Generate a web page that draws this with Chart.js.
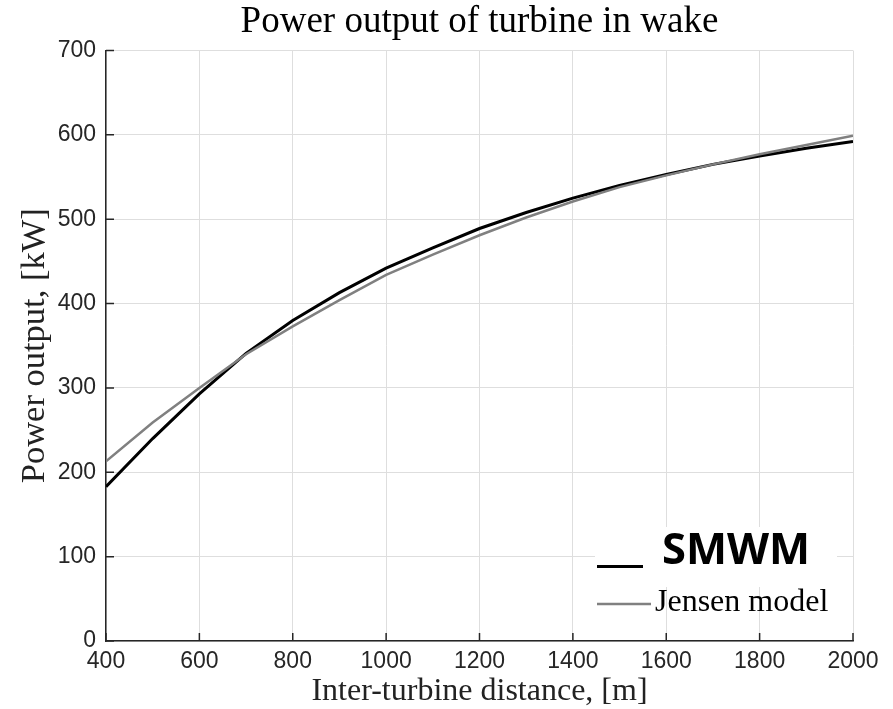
<!DOCTYPE html>
<html><head><meta charset="utf-8">
<script src="https://cdn.jsdelivr.net/npm/chart.js@4"></script>
<style>html,body{margin:0;padding:0;background:#fff}#wrap{width:893px;height:709px}</style>
</head><body><div id="wrap"><canvas id="c" width="893" height="709"></canvas></div>
<script>
const distances = [400,500,600,700,800,900,1000,1100,1200,1300,1400,1500,1600,1700,1800,1900,2000];
const smwm      = [183,240,293,341,380,413,442,466,489,508,525,540,553,565,575,584,592];
const jensen    = [213,259,300,340,373,404,434,458,481,502,521,538,552,565,577,588,599];
const xTicks = [400,600,800,1000,1200,1400,1600,1800,2000];
const yTicks = [0,100,200,300,400,500,600,700];
const titleText = 'Power output of turbine in wake';
const xTitle = 'Inter-turbine distance, [m]';
const yTitle = 'Power output, [kW]';
const seriesNames = ['SMWM','Jensen model'];

const SERIF = '"Liberation Serif", "Times New Roman", serif';
const SANS = '"Liberation Sans", Arial, sans-serif';
const AXIS = '#262626';

const inwardTicks = {
  id: 'inwardTicks',
  afterDraw(chart) {
    const {ctx, scales: {x, y}, chartArea: a} = chart;
    ctx.save();
    ctx.strokeStyle = AXIS; ctx.lineWidth = 1.5;
    ctx.beginPath();
    xTicks.forEach(v => { const px = x.getPixelForValue(v); ctx.moveTo(px, a.bottom); ctx.lineTo(px, a.bottom - 8); });
    yTicks.forEach(v => { const py = y.getPixelForValue(v); ctx.moveTo(a.left, py); ctx.lineTo(a.left + 8, py); });
    ctx.stroke();
    ctx.restore();
  }
};

const customLegend = {
  id: 'customLegend',
  afterDatasetsDraw(chart) {
    const {ctx} = chart;
    const ds = chart.data.datasets;
    ctx.save();
    ctx.fillStyle = '#fff';
    ctx.fillRect(595, 527, 242, 60);
    ctx.strokeStyle = ds[0].borderColor; ctx.lineWidth = 3;
    ctx.beginPath(); ctx.moveTo(597, 566.5); ctx.lineTo(643, 566.5); ctx.stroke();
    ctx.font = 'bold 40px "Open Sans", sans-serif';
    const w = ctx.measureText(ds[0].label).width;
    const fs = 40 * 148 / w;
    ctx.font = 'bold ' + fs.toFixed(1) + 'px "Open Sans", sans-serif';
    ctx.fillStyle = '#000'; ctx.textBaseline = 'alphabetic'; ctx.textAlign = 'left';
    ctx.fillText(ds[0].label, 662, 564);
    ctx.strokeStyle = ds[1].borderColor; ctx.lineWidth = 2.5;
    ctx.beginPath(); ctx.moveTo(597, 604); ctx.lineTo(651, 604); ctx.stroke();
    ctx.font = '32px ' + SERIF;
    ctx.fillStyle = '#000';
    ctx.fillText(ds[1].label, 655, 611);
    ctx.restore();
  }
};

new Chart(document.getElementById('c'), {
  type: 'line',
  data: {
    datasets: [
      { label: seriesNames[0], data: distances.map((d,i)=>({x:d,y:smwm[i]})), borderColor: '#000000', borderWidth: 3, pointRadius: 0, tension: 0, order: 1 },
      { label: seriesNames[1], data: distances.map((d,i)=>({x:d,y:jensen[i]})), borderColor: '#808080', borderWidth: 2.5, pointRadius: 0, tension: 0, order: 0 }
    ]
  },
  options: {
    responsive: false,
    devicePixelRatio: 1,
    animation: false,
    layout: { padding: { left: 0, right: 40, top: 0, bottom: 0 } },
    plugins: {
      legend: { display: false },
      tooltip: { enabled: false },
      title: { display: true, fullSize: false, text: titleText, color: '#000', font: { family: SERIF, size: 37, weight: 'normal', lineHeight: 1 }, padding: { top: 4, bottom: 9.5 } }
    },
    scales: {
      x: {
        type: 'linear', min: 400, max: 2000,
        afterFit(s) { s.height = 68; },
        afterBuildTicks(s) { s.ticks = xTicks.map(v => ({value: v})); },
        ticks: { color: AXIS, font: { family: SANS, size: 23 }, padding: 7, maxRotation: 0, autoSkip: false, callback: v => String(v) },
        grid: { color: '#dedede', lineWidth: 1, drawTicks: false },
        border: { color: AXIS, width: 1.5 },
        title: { display: true, text: xTitle, color: '#222', font: { family: SERIF, size: 32, lineHeight: 1 }, padding: { top: 0, bottom: 1.5 } }
      },
      y: {
        type: 'linear', min: 0, max: 700,
        afterFit(s) { s.width = 106; },
        afterBuildTicks(s) { s.ticks = yTicks.map(v => ({value: v})); },
        ticks: { color: AXIS, font: { family: SANS, size: 23 }, padding: 10, callback: v => String(v) },
        grid: { color: '#dedede', lineWidth: 1, drawTicks: false },
        border: { color: AXIS, width: 1.5 },
        title: { display: true, text: yTitle, color: '#222', font: { family: SERIF, size: 34.5, lineHeight: 1 }, padding: { top: 18, bottom: 0 } }
      }
    }
  },
  plugins: [inwardTicks, customLegend]
});
</script>
</body></html>
